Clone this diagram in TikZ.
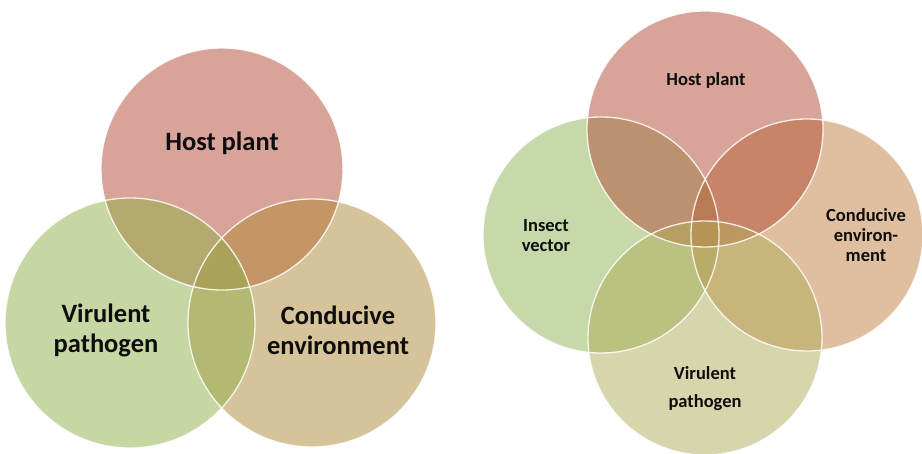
\documentclass[tikz,border=0pt]{standalone}
\usepackage{fontspec}
\setmainfont{Carlito}
\usepackage{tikz}
\definecolor{hostc}{RGB}{179,75,53}
\definecolor{pathc}{RGB}{145,177,73}
\definecolor{envc}{RGB}{177,137,53}
\definecolor{insc}{RGB}{145,181,89}
\definecolor{envrc}{RGB}{193,129,65}
\definecolor{pathrc}{RGB}{177,173,89}
\begin{document}
\begin{tikzpicture}[x=1pt,y=1pt,
  disc/.style={fill opacity=0.5},
  rim/.style={white,line width=1.3pt,opacity=0.85},
  bigtxt/.style={font=\bfseries\fontsize{26.5}{30}\selectfont,text=black!95,align=center,inner sep=0pt},
  smalltxt/.style={font=\bfseries\fontsize{18.5}{20}\selectfont,text=black!95,align=center,inner sep=0pt}]
\useasboundingbox [fill=white] (0,0) rectangle (922,-454);
\fill [hostc,disc] (222,-169) circle (121);
\fill [envc,disc] (312,-323) circle (124);
\fill [pathc,disc] (130,-323) circle (125);
\draw [rim] (222,-169) circle (121);
\draw [rim] (312,-323) circle (124);
\draw [rim] (130,-323) circle (125);
\node [bigtxt] (hostL) at (222,-143) {Host plant};
\node [bigtxt] (pathL) at (106,-330) {Virulent\\pathogen};
\node [bigtxt] (envL) at (338,-330) {Conducive\\environment};
\fill [insc,disc] (601,-235) circle (118);
\fill [envrc,disc] (807,-235) circle (116);
\fill [hostc,disc] (705,-129) circle (118);
\fill [pathrc,disc] (705,-338) circle (117);
\draw [rim] (601,-235) circle (118);
\draw [rim] (807,-235) circle (116);
\draw [rim] (705,-129) circle (118);
\draw [rim] (705,-338) circle (117);
\node [smalltxt] (hostR) at (706,-80) {Host plant};
\node [smalltxt] (insR) at (546,-236) {Insect\\vector};
\node [smalltxt] (envR) at (866,-235) {Conducive\\environ-\\ment};
\node [smalltxt,font=\bfseries\fontsize{18.5}{28}\selectfont] (pathR) at (705,-389) {Virulent\\pathogen};
\end{tikzpicture}
\end{document}
